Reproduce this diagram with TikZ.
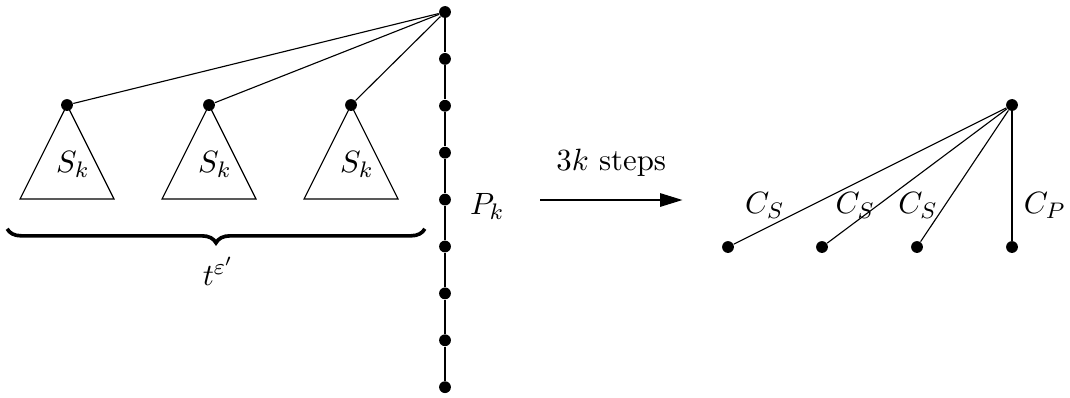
\documentclass[tikz,border=0pt]{standalone}
\usepackage{amssymb,amsmath}
\usepackage{tikz}
\usetikzlibrary{arrows.meta,positioning,decorations.pathreplacing}
\tikzset{
  trdot/.style={circle, fill=black, inner sep=0pt, minimum size=4.2pt},
  trline/.style={draw=black, line width=0.4pt},
  trlabel/.style={font=\fontsize{10.95pt}{13pt}\selectfont},
  trarrow/.style={-{Triangle[length=2.8mm,width=1.7mm]}, line width=0.4pt},
  trbrace/.style={decorate, decoration={brace, mirror, amplitude=5pt}, line width=1.3pt}
}

\begin{document}
\begin{tikzpicture}
  \useasboundingbox (0cm,0cm) rectangle (13.375cm,-4.9625cm);
  % left tree
  \node[trdot] (rL) at (5.5625cm,-0.15cm) {};
  \node[trdot] (sA) at (0.8375cm,-1.3125cm) {};
  \node[trdot] (sB) at (2.6125cm,-1.3125cm) {};
  \node[trdot] (sC) at (4.3875cm,-1.3125cm) {};
  \draw[trline] (sA.center) -- (0.25cm,-2.4875cm) -- (1.425cm,-2.4875cm) -- cycle;
  \draw[trline] (sB.center) -- (2.025cm,-2.4875cm) -- (3.2cm,-2.4875cm) -- cycle;
  \draw[trline] (sC.center) -- (3.8cm,-2.4875cm) -- (4.975cm,-2.4875cm) -- cycle;
  \node[trlabel] (lA) at (0.91cm,-2.06cm) {$S_k$};
  \node[trlabel] (lB) at (2.685cm,-2.06cm) {$S_k$};
  \node[trlabel] (lC) at (4.46cm,-2.06cm) {$S_k$};
  \draw[trline] (rL) -- (sA);
  \draw[trline] (rL) -- (sB);
  \draw[trline] (rL) -- (sC);
  % path P_k
  \foreach \i in {1,...,8}
    \node[trdot] (p\i) at (5.5625cm,{-0.15cm-\i*0.5862cm}) {};
  \draw[trline] (rL) -- (p1) -- (p2) -- (p3) -- (p4) -- (p5) -- (p6) -- (p7) -- (p8);
  \node[trlabel] (lP) at (6.09cm,-2.58cm) {$P_k$};
  % brace
  \coordinate (bL) at (0.09cm,-2.86cm);
  \coordinate (bR) at (5.31cm,-2.86cm);
  \draw[trbrace] (bL) -- (bR);
  \node[trlabel] (lT) at (2.73cm,-3.39cm) {$t^{\varepsilon'}$};
  % arrow
  \coordinate (aS) at (6.75cm,-2.5cm);
  \coordinate (aE) at (8.53cm,-2.5cm);
  \draw[trarrow] (aS) -- (aE) node[trlabel, midway, above=5pt] {$3k$ steps};
  % right tree
  \node[trdot] (rR) at (12.65cm,-1.3125cm) {};
  \node[trdot] (cA) at (9.1cm,-3.0875cm) {};
  \node[trdot] (cB) at (10.275cm,-3.0875cm) {};
  \node[trdot] (cC) at (11.4625cm,-3.0875cm) {};
  \node[trdot] (cP) at (12.65cm,-3.0875cm) {};
  \draw[trline] (rR) -- (cA);
  \draw[trline] (rR) -- (cB);
  \draw[trline] (rR) -- (cC);
  \draw[trline] (rR) -- (cP);
  \node[trlabel] (lSA) at (9.56cm,-2.57cm) {$C_S$};
  \node[trlabel] (lSB) at (10.69cm,-2.57cm) {$C_S$};
  \node[trlabel] (lSC) at (11.475cm,-2.57cm) {$C_S$};
  \node[trlabel] (lSP) at (13.06cm,-2.57cm) {$C_P$};
\end{tikzpicture}
\end{document}
